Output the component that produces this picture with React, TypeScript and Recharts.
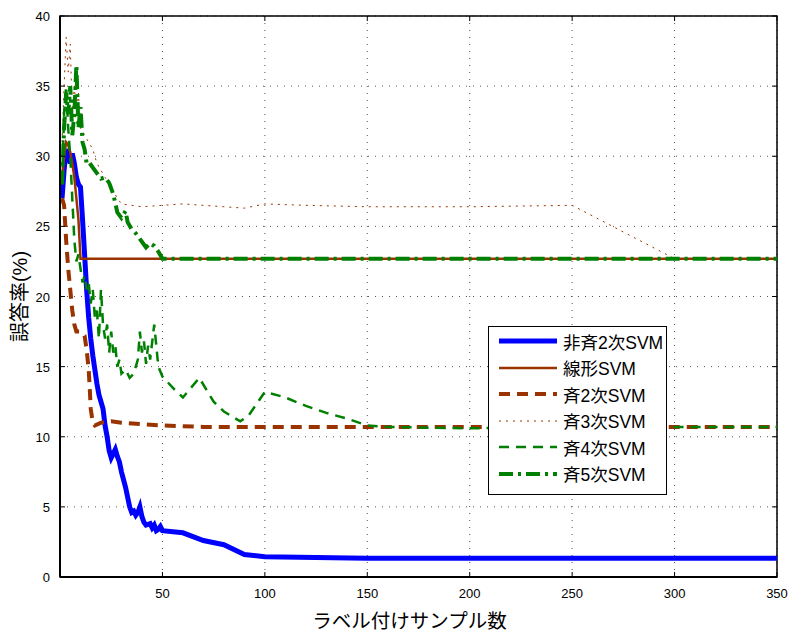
import {
  LineChart,
  Line,
  XAxis,
  YAxis,
  CartesianGrid,
  ReferenceArea,
} from "recharts";

// x values / error rate (%) per series
const nonHomX = [1, 2, 3, 4, 5, 6, 7, 8, 9, 10, 11, 12, 13, 14, 15, 16, 17, 18, 19, 20, 21, 22, 23, 24, 25, 26, 27, 28, 29, 30, 32, 34, 35, 36, 37, 38, 39, 40, 41, 42, 44, 45, 46, 47, 48, 49, 50, 60, 70, 80, 90, 100, 150, 200, 250, 300, 350];
const nonHomY = [27, 29, 30.5, 30, 29.5, 30.2, 29.5, 28.5, 28, 27.8, 25.5, 23, 20.5, 18.5, 17, 15.8, 14.8, 13.8, 13, 12.5, 12, 10.8, 10, 9, 8.5, 8.8, 9.1, 8.6, 8.2, 7.5, 6.4, 5, 4.6, 4.7, 4.4, 4.6, 5, 4.3, 3.9, 3.7, 3.8, 3.5, 3.7, 3.3, 3.4, 3.6, 3.3, 3.15, 2.6, 2.3, 1.6, 1.45, 1.33, 1.33, 1.33, 1.33, 1.33];

const linearX = [1, 2, 3, 4, 5, 6, 7, 8, 9, 10, 350];
const linearY = [28, 30, 31, 30.8, 30.3, 29.5, 28.5, 27, 25.5, 22.7, 22.7];

const hom2X = [1, 2, 3, 4, 5, 6, 7, 8, 10, 12, 13, 14, 14.5, 15, 16, 17, 20, 25, 30, 40, 50, 60, 70, 100, 200, 350];
const hom2Y = [27, 26.5, 24, 22, 20.5, 19, 18, 17.5, 17.5, 17.2, 16.2, 14.8, 13.5, 12, 11, 10.8, 11, 11.1, 11, 10.9, 10.8, 10.75, 10.7, 10.7, 10.7, 10.7];

const hom3X = [1, 2, 3, 4, 5, 6, 7, 8, 9, 10, 11, 12, 14, 16, 18, 20, 22, 25, 28, 30, 40, 50, 60, 70, 80, 90, 100, 120, 150, 200, 250, 275, 300, 350];
const hom3Y = [31, 35, 38.5, 36, 38, 33, 35, 33, 34.5, 32, 31.8, 31.5, 31, 30.5, 29.5, 29, 28.5, 27.8, 27, 26.6, 26.4, 26.5, 26.6, 26.5, 26.4, 26.3, 26.6, 26.5, 26.4, 26.4, 26.5, 24.6, 22.7, 22.7];

const hom4X = [1, 2, 3, 4, 5, 6, 7, 8, 9, 10, 11, 12, 13, 14, 15, 16, 17, 18, 19, 20, 21, 22, 23, 24, 25, 26, 27, 28, 29, 30, 32, 34, 36, 38, 39, 40, 41, 42, 43, 44, 46, 47, 48, 50, 55, 60, 68, 75, 80, 88, 92, 100, 110, 120, 130, 140, 150, 160, 200, 250, 300, 350];
const hom4Y = [28, 33, 35, 32, 30, 27, 24, 22.5, 23, 22, 21, 21.5, 20.5, 21, 19.5, 20.5, 18.5, 19, 17, 20.5, 18, 17, 18, 16, 17.5, 16, 16.5, 15, 15.5, 14.5, 14.8, 14.2, 14.5, 15.5, 17.5, 16, 16.8, 15.2, 16.5, 15.5, 18, 16.5, 15, 14.3, 13.5, 12.8, 14.2, 12.5, 11.8, 11.1, 11.5, 13.2, 12.8, 12.2, 11.7, 11.3, 10.8, 10.7, 10.6, 10.7, 10.7, 10.7];

const hom5X = [1, 2, 3, 4, 5, 6, 7, 8, 9, 10, 11, 12, 13, 14, 16, 18, 20, 22, 24, 26, 28, 30, 32, 33, 35, 37, 40, 42, 44, 46, 48, 50, 350];
const hom5Y = [28, 32, 34.5, 33, 35, 31.5, 33, 36.5, 32, 33.5, 31, 30.5, 29.5, 29.6, 29.2, 28.8, 28.4, 28.5, 28.1, 27.3, 26, 25.6, 26.1, 25.3, 24.8, 24.5, 23.9, 23.5, 23.8, 23.6, 23.2, 22.7, 22.7];

const xTicks = [0, 50, 100, 150, 200, 250, 300, 350];
const yTicks = [0, 5, 10, 15, 20, 25, 30, 35, 40];

const zip = (xs: number[], ys: number[]) => xs.map((x, i) => ({ x, y: ys[i] }));

const BROWN = "#993300";
const GREEN = "#008000";
const FONT = '"Liberation Sans", Arial, "Noto Sans CJK JP", sans-serif';

const series = [
  { name: "非斉2次SVM", data: zip(nonHomX, nonHomY), stroke: "#0000ff", width: 5, dash: undefined },
  { name: "線形SVM", data: zip(linearX, linearY), stroke: BROWN, width: 2.5, dash: undefined },
  { name: "斉2次SVM", data: zip(hom2X, hom2Y), stroke: BROWN, width: 4, dash: "11 7" },
  { name: "斉3次SVM", data: zip(hom3X, hom3Y), stroke: BROWN, width: 1, dash: "2 5" },
  { name: "斉4次SVM", data: zip(hom4X, hom4Y), stroke: GREEN, width: 2.5, dash: "10 7" },
  { name: "斉5次SVM", data: zip(hom5X, hom5Y), stroke: GREEN, width: 4, dash: "14 5 3 5" },
];

const PLOT_TOP = 16;
const PLOT_RIGHT = 777;

function XTick({ x, y, payload }: any) {
  return (
    <g>
      <line x1={x} x2={x} y1={y} y2={y - 5} stroke="#000" />
      <line x1={x} x2={x} y1={PLOT_TOP} y2={PLOT_TOP + 5} stroke="#000" />
      {payload.value !== 0 && (
        <text x={x} y={y + 21} textAnchor="middle" fontSize={13} fontFamily={FONT} fill="#000">
          {payload.value}
        </text>
      )}
    </g>
  );
}

function YTick({ x, y, payload }: any) {
  return (
    <g>
      <line x1={x} x2={x + 5} y1={y} y2={y} stroke="#000" />
      <line x1={PLOT_RIGHT} x2={PLOT_RIGHT - 5} y1={y} y2={y} stroke="#000" />
      <text x={x - 10} y={y + 5} textAnchor="end" fontSize={13} fontFamily={FONT} fill="#000">
        {payload.value}
      </text>
    </g>
  );
}

function LegendBox() {
  return (
    <div
      style={{
        position: "absolute",
        left: 488,
        top: 326,
        border: "1.5px solid #000",
        background: "#fff",
        width: 179,
        padding: "1px 0 7px 0",
        boxSizing: "border-box",
        fontFamily: FONT,
        fontSize: 17.5,
      }}
    >
      {series.map((s) => (
        <div key={s.name} style={{ display: "flex", alignItems: "center", height: 26.5 }}>
          <svg width={74} height={12} style={{ flex: "none" }}>
            <line
              x1={10}
              x2={68}
              y1={6}
              y2={6}
              stroke={s.stroke}
              strokeWidth={s.width}
              strokeDasharray={s.dash}
            />
          </svg>
          <span>{s.name}</span>
        </div>
      ))}
    </div>
  );
}

export default function App() {
  return (
    <div style={{ position: "absolute", left: 0, top: 0, width: 790, height: 634, background: "#fff", fontFamily: FONT }}>
      <LineChart width={790} height={634} margin={{ top: 16, right: 13, bottom: 0, left: 0 }}>
        <CartesianGrid stroke="#555" strokeDasharray="1 6" />
        <XAxis
          dataKey="x"
          type="number"
          domain={[0, 350]}
          ticks={xTicks}
          height={57}
          allowDuplicatedCategory={false}
          tickSize={0}
          tickMargin={0}
          tickLine={false}
          axisLine={{ stroke: "#000", strokeWidth: 2 }}
          tick={<XTick />}
          label={{ value: "ラベル付けサンプル数", position: "insideBottom", offset: 6, dx: -9, fontSize: 19.5, fill: "#000", fontFamily: FONT }}
        />
        <YAxis
          type="number"
          domain={[0, 40]}
          ticks={yTicks}
          width={60}
          tickSize={0}
          tickMargin={0}
          tickLine={false}
          axisLine={{ stroke: "#000", strokeWidth: 2 }}
          tick={<YTick />}
          label={{ value: "誤答率(%)", angle: -90, position: "insideLeft", offset: 20, dy: 0, fontSize: 20, fill: "#000", fontFamily: FONT, style: { textAnchor: "middle" } }}
        />
        <ReferenceArea x1={0} x2={350} y1={0} y2={40} fill="none" stroke="#000" strokeWidth={1.5} ifOverflow="visible" />
        {series.map((s) => (
          <Line
            key={s.name}
            data={s.data}
            dataKey="y"
            name={s.name}
            type="linear"
            stroke={s.stroke}
            strokeWidth={s.width}
            strokeDasharray={s.dash}
            dot={false}
            activeDot={false}
            isAnimationActive={false}
          />
        ))}
      </LineChart>
      <LegendBox />
    </div>
  );
}
